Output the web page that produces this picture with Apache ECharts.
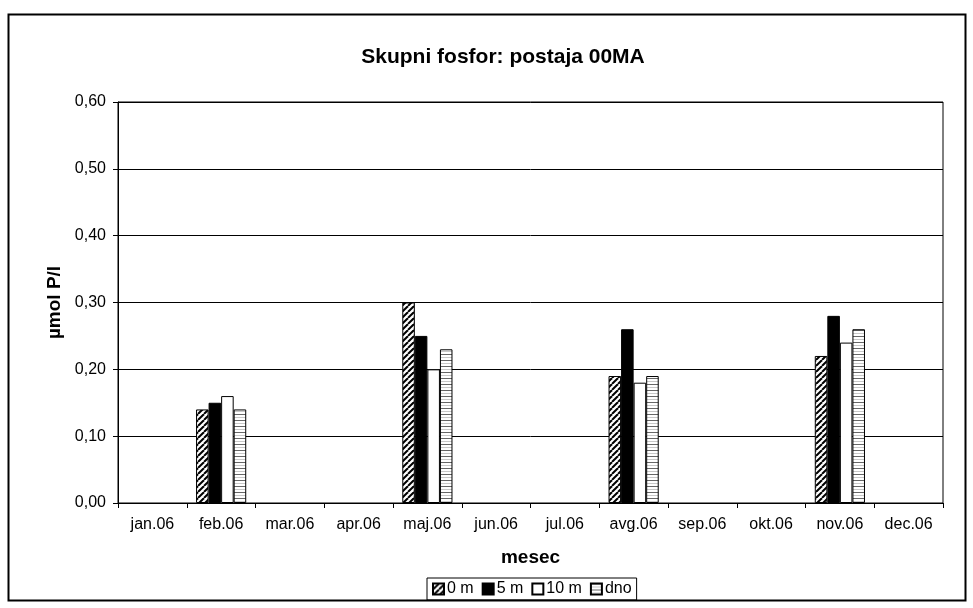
<!DOCTYPE html>
<html>
<head>
<meta charset="utf-8">
<script src="https://cdn.jsdelivr.net/npm/echarts@6/dist/echarts.min.js"></script>
<style>html,body{margin:0;padding:0;background:#fff}#c{width:973px;height:608px}</style>
</head>
<body>
<div id="c"></div>
<script>
var months = ['jan.06','feb.06','mar.06','apr.06','maj.06','jun.06','jul.06','avg.06','sep.06','okt.06','nov.06','dec.06'];
var seriesNames = ['0 m','5 m','10 m','dno'];
var d0m  = [null,0.14,null,null,0.30,null,null,0.19,null,null,0.22,null];
var d5m  = [null,0.15,null,null,0.25,null,null,0.26,null,null,0.28,null];
var d10m = [null,0.16,null,null,0.20,null,null,0.18,null,null,0.24,null];
var ddno = [null,0.14,null,null,0.23,null,null,0.19,null,null,0.26,null];

function hatchPattern(){
  var c=document.createElement('canvas'); c.width=6; c.height=6;
  var g=c.getContext('2d'); g.fillStyle='#fff'; g.fillRect(0,0,6,6);
  g.strokeStyle='#000'; g.lineWidth=2;
  for(var k=-6;k<=12;k+=6){ g.beginPath(); g.moveTo(k,6); g.lineTo(k+6,0); g.stroke(); }
  return c;
}
function stripePattern(){
  var c=document.createElement('canvas'); c.width=4; c.height=6;
  var g=c.getContext('2d'); g.fillStyle='#fff'; g.fillRect(0,0,4,6);
  g.fillStyle='#666'; g.fillRect(0,0,4,1);
  g.fillStyle='#c8c8c8'; g.fillRect(0,3,4,1);
  return c;
}
var fills = [
  {image: hatchPattern(), repeat:'repeat'},
  '#000000',
  '#ffffff',
  {image: stripePattern(), repeat:'repeat'}
];
var datas = [d0m,d5m,d10m,ddno];

var chart = echarts.init(document.getElementById('c'));
var series = seriesNames.map(function(n,i){
  return {
    name:n, type:'bar', data:datas[i],
    barGap:'0%', barCategoryGap:'27%',
    itemStyle:{color:fills[i], borderColor:'#000', borderWidth:1},
    emphasis:{disabled:true}
  };
});
chart.setOption({
  animation:false,
  backgroundColor:'#fff',
  textStyle:{fontFamily:'Liberation Sans, Arial, sans-serif'},
  title:{text:'Skupni fosfor: postaja 00MA', left:498, top:42, textAlign:'center',
    textStyle:{fontSize:21, fontWeight:'bold', color:'#000', fontFamily:'Liberation Sans, Arial, sans-serif'}},
  grid:{left:118, top:102, right:30, bottom:105, show:true, borderColor:'#000', borderWidth:1, backgroundColor:'transparent'},
  legend:{data:seriesNames.map(function(n){return {name:n, icon:'rect'};}), top:578, left:427,
    itemWidth:11, itemHeight:11, itemGap:8,
    borderColor:'#000', borderWidth:1, padding:[3,5], borderRadius:0,
    textStyle:{fontSize:16, color:'#000', padding:[0,0,0,-2]}},
  xAxis:{type:'category', data:months, name:'mesec', nameLocation:'middle', nameGap:45,
    nameTextStyle:{fontSize:19, fontWeight:'bold', color:'#000'},
    axisLine:{lineStyle:{color:'#000', width:1}},
    axisTick:{show:true, length:5, lineStyle:{color:'#000'}},
    axisLabel:{fontSize:16, color:'#000', margin:14}},
  yAxis:{type:'value', min:0, max:0.6, interval:0.1, name:'µmol P/l', nameLocation:'middle', nameGap:54,
    nameTextStyle:{fontSize:19, fontWeight:'bold', color:'#000'},
    axisLine:{show:true, lineStyle:{color:'#000', width:1}},
    axisTick:{show:true, length:5, lineStyle:{color:'#000'}},
    axisLabel:{fontSize:16, color:'#000', margin:12, formatter:function(v){return v.toFixed(2).replace('.',',');}},
    splitLine:{show:true, lineStyle:{color:'#000', width:1}}},
  graphic:[{type:'rect', shape:{x:8.5, y:14.5, width:957, height:586}, style:{fill:'none', stroke:'#000', lineWidth:2}, silent:true}],
  series:series
});
</script>
</body>
</html>
